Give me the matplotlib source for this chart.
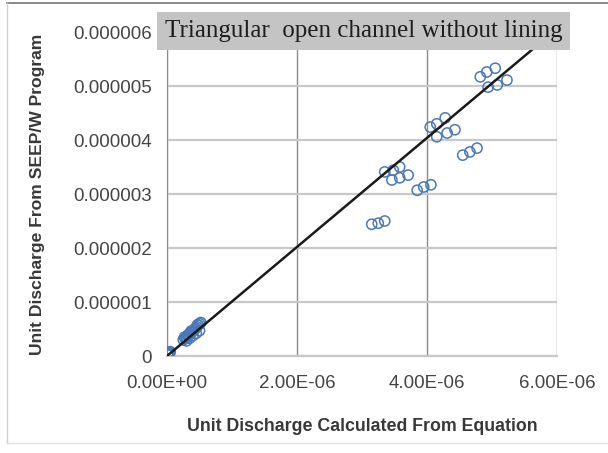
import numpy as np
import matplotlib.pyplot as plt
from matplotlib.lines import Line2D
from matplotlib.patches import Rectangle

# --- data (unit discharge, m3/s/m), in units of 1e-6 ---
eq_near_zero = [0.01, 0.02, 0.03, 0.04, 0.05, 0.02, 0.25, 0.28, 0.30, 0.32, 0.34, 0.36,
                0.38, 0.40, 0.42, 0.44, 0.46, 0.48, 0.50, 0.35, 0.40, 0.45, 0.50, 0.30,
                0.27, 0.33, 0.37, 0.43, 0.47, 0.52]
seep_near_zero = [0.02, 0.03, 0.05, 0.06, 0.08, 0.07, 0.30, 0.32, 0.34, 0.37, 0.39, 0.42,
                  0.44, 0.47, 0.49, 0.52, 0.54, 0.57, 0.60, 0.33, 0.38, 0.42, 0.47, 0.28,
                  0.35, 0.40, 0.46, 0.50, 0.58, 0.62]

eq_high = [3.15, 3.25, 3.35,
           3.35, 3.48, 3.58,
           3.46, 3.58, 3.71,
           3.85, 3.95, 4.06,
           4.05, 4.15, 4.28,
           4.15, 4.31, 4.43,
           4.55, 4.66, 4.77,
           4.82, 4.92, 5.05,
           4.94, 5.08, 5.23]
seep_high = [2.44, 2.46, 2.50,
             3.41, 3.44, 3.50,
             3.26, 3.30, 3.35,
             3.07, 3.13, 3.17,
             4.24, 4.30, 4.41,
             4.06, 4.13, 4.19,
             3.72, 3.78, 3.85,
             5.17, 5.26, 5.33,
             4.98, 5.02, 5.11]

trend_slope = 1.01  # slope of the linear trendline as drawn on the chart

x = np.array(eq_near_zero + eq_high) * 1e-6
y = np.array(seep_near_zero + seep_high) * 1e-6

fig = plt.figure(figsize=(6.08, 4.53), dpi=100)
ax = fig.add_axes([0.2747, 0.2141, 0.6414, 0.7152])

ax.scatter(x, y, s=54, facecolors='none', edgecolors='#4a78b8', linewidths=1.1, zorder=3)
xl = np.array([0, 6.5e-6])
ax.plot(xl, trend_slope * xl, color='#1a1a1a', lw=1.8, zorder=4)

ax.set_xlim(0, 6e-6)
ax.set_ylim(0, 6e-6)
ax.set_xticks([0, 2e-6, 4e-6, 6e-6])
ax.set_xticklabels(['0.00E+00', '2.00E-06', '4.00E-06', '6.00E-06'])
ax.set_yticks([0, 1e-6, 2e-6, 3e-6, 4e-6, 5e-6, 6e-6])
ax.set_yticklabels(['0', '0.000001', '0.000002', '0.000003', '0.000004', '0.000005', '0.000006'])
ax.tick_params(length=0, labelsize=13.5, colors='#444444')
ax.tick_params(axis='x', pad=14)
ax.tick_params(axis='y', pad=11)
for lab in ax.get_xticklabels() + ax.get_yticklabels():
    lab.set_family('Liberation Sans')

ax.grid(True, axis='y', color='#c8c8c8', lw=1.6)
ax.grid(True, axis='x', color='#8a8a8a', lw=1.0)
ax.set_axisbelow(True)
for s in ['top', 'right']:
    ax.spines[s].set_visible(False)
ax.spines['left'].set_color('#8a8a8a')
ax.spines['bottom'].set_color('#c8c8c8')
ax.spines['bottom'].set_linewidth(1.6)

ax.set_xlabel('Unit Discharge Calculated From Equation', fontsize=12.8,
              fontweight='bold', family='Liberation Sans', color='#383838')
ax.set_ylabel('Unit Discharge From SEEP/W Program', fontsize=12.6,
              fontweight='bold', family='Liberation Sans', color='#383838')
ax.xaxis.set_label_coords(0.5, -0.191)
ax.yaxis.set_label_coords(-0.313, 0.5)

# title box
fig.add_artist(Rectangle((157/608, 1 - 50/453), 413/608, 38/453,
                         transform=fig.transFigure, facecolor='#c4c4c4',
                         edgecolor='none', zorder=9))
fig.text(363.5/608, 1 - 31/453, 'Triangular  open channel without lining', ha='center', va='center',
         fontsize=18, family='Liberation Serif', color='#1e1e1e', zorder=10)

# outer chart border
fig.add_artist(Line2D([7/608, 1], [1 - 3/453, 1 - 3/453], color='#777777', lw=1.2))
fig.add_artist(Line2D([7/608, 7/608], [1 - 3/453, 1 - 443/453], color='#d0d0d0', lw=1.0))
fig.add_artist(Line2D([7/608, 1], [1 - 443/453, 1 - 443/453], color='#e0e0e0', lw=1.0))

fig.savefig('out.png', dpi=100)
